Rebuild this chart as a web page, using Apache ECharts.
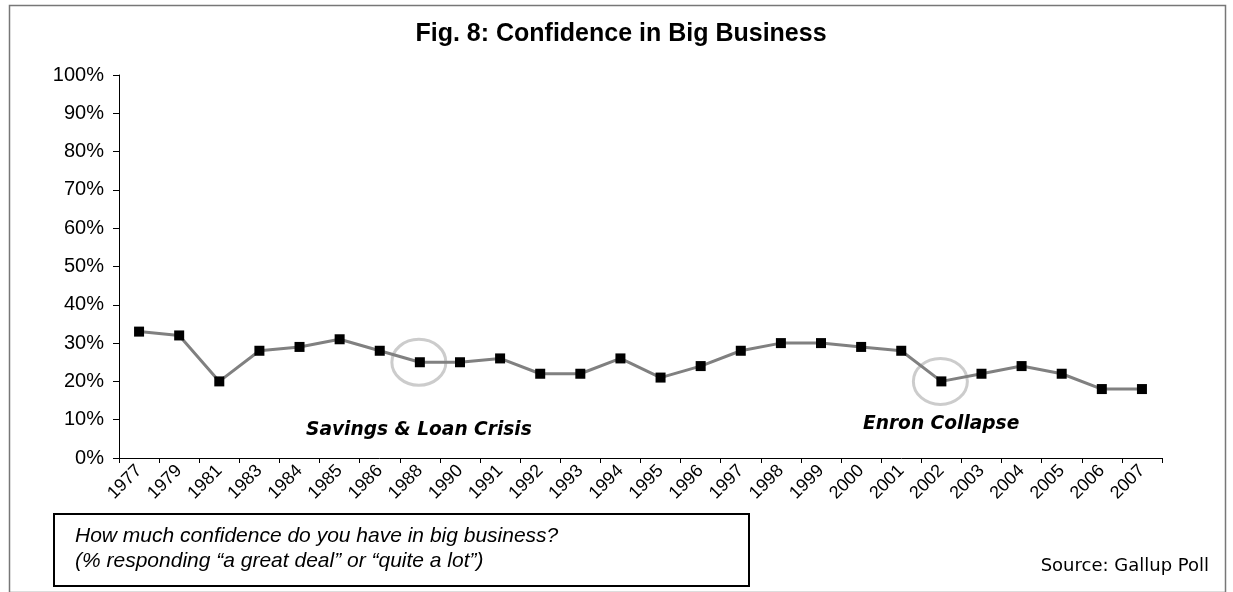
<!DOCTYPE html>
<html>
<head>
<meta charset="utf-8">
<script src="https://cdn.jsdelivr.net/npm/echarts@6/dist/echarts.min.js"></script>
<style>
html,body{margin:0;padding:0;background:#fff;}
#chart{width:1233px;height:592px;}
</style>
</head>
<body>
<div id="chart"></div>
<script>
const titleText = 'Fig. 8: Confidence in Big Business';
const years = ['1977','1979','1981','1983','1984','1985','1986','1988','1990','1991','1992','1993','1994','1995','1996','1997','1998','1999','2000','2001','2002','2003','2004','2005','2006','2007'];
const confidence = [33,32,20,28,29,31,28,25,25,26,22,22,26,21,24,28,30,30,29,28,20,22,24,22,18,18];
const yTicks = [0,10,20,30,40,50,60,70,80,90,100];
const circledYears = ['1988','2002'];
const annotations = ['Savings & Loan Crisis', 'Enron Collapse'];
const questionLines = ['How much confidence do you have in big business?', '(% responding \u201ca great deal\u201d or \u201cquite a lot\u201d)'];
const sourceText = 'Source: Gallup Poll';

const circleData = circledYears.map(y => {
  const i = years.indexOf(y);
  return [i, confidence[i]];
});

const chart = echarts.init(document.getElementById('chart'), null, {renderer: 'canvas'});
chart.setOption({
  animation: false,
  backgroundColor: '#fff',
  grid: {left: 119, right: 71, top: 75, bottom: 134, containLabel: false},
  xAxis: {
    type: 'category',
    data: years,
    boundaryGap: true,
    axisLine: {lineStyle: {color: '#000', width: 1}},
    axisTick: {show: true, length: 5, lineStyle: {color: '#000'}},
    axisLabel: {rotate: 45, fontSize: 18, color: '#000', fontFamily: 'Liberation Sans', margin: 10, interval: 0}
  },
  yAxis: {
    type: 'value',
    min: yTicks[0], max: yTicks[yTicks.length - 1], interval: 10,
    axisLine: {show: true, lineStyle: {color: '#000', width: 1}},
    axisTick: {show: true, length: 6, lineStyle: {color: '#000'}},
    splitLine: {show: false},
    axisLabel: {formatter: '{value}%', fontSize: 20, color: '#000', fontFamily: 'Liberation Sans', margin: 15}
  },
  series: [
    {
      type: 'custom',
      z: 1,
      data: circleData,
      renderItem: function (params, api) {
        const p = api.coord([api.value(0), api.value(1)]);
        return {
          type: 'ellipse',
          shape: {cx: p[0] - 1, cy: p[1], rx: 27, ry: 23},
          style: {fill: 'none', stroke: '#cccccc', lineWidth: 3}
        };
      }
    },
    {
      type: 'line',
      z: 3,
      data: confidence,
      symbol: 'rect',
      symbolSize: 10,
      lineStyle: {color: '#808080', width: 3},
      itemStyle: {color: '#000', borderColor: '#000', borderWidth: 0}
    }
  ],
  graphic: [
    {type: 'rect', left: 7, top: 3, shape: {x: 0, y: 0, width: 1216, height: 587}, style: {fill: 'none', stroke: '#777', lineWidth: 1.5}, silent: true},
    {type: 'text', x: 621, y: 34, style: {text: titleText, fontSize: 25, fontWeight: 'bold', fontFamily: 'Liberation Sans', fill: '#000', textAlign: 'center', textVerticalAlign: 'middle'}},
    {type: 'text', x: 306, y: 430, style: {text: annotations[0], fontSize: 18.6, fontWeight: 'bold', fontStyle: 'italic', fontFamily: 'DejaVu Sans', fill: '#000', textAlign: 'left', textVerticalAlign: 'middle'}},
    {type: 'text', x: 863, y: 424, style: {text: annotations[1], fontSize: 18.6, fontWeight: 'bold', fontStyle: 'italic', fontFamily: 'DejaVu Sans', fill: '#000', textAlign: 'left', textVerticalAlign: 'middle'}},
    {type: 'rect', shape: {x: 54, y: 514, width: 695, height: 72}, style: {fill: 'none', stroke: '#000', lineWidth: 2}},
    {type: 'text', x: 75, y: 536, style: {text: questionLines[0], fontSize: 21, fontStyle: 'italic', fontFamily: 'Liberation Sans', fill: '#000', textAlign: 'left', textVerticalAlign: 'middle'}},
    {type: 'text', x: 75, y: 561, style: {text: questionLines[1], fontSize: 21, fontStyle: 'italic', fontFamily: 'Liberation Sans', fill: '#000', textAlign: 'left', textVerticalAlign: 'middle'}},
    {type: 'text', x: 1209, y: 566, style: {text: sourceText, fontSize: 18, fontFamily: 'DejaVu Sans', fill: '#000', textAlign: 'right', textVerticalAlign: 'middle'}}
  ]
});
</script>
</body>
</html>
